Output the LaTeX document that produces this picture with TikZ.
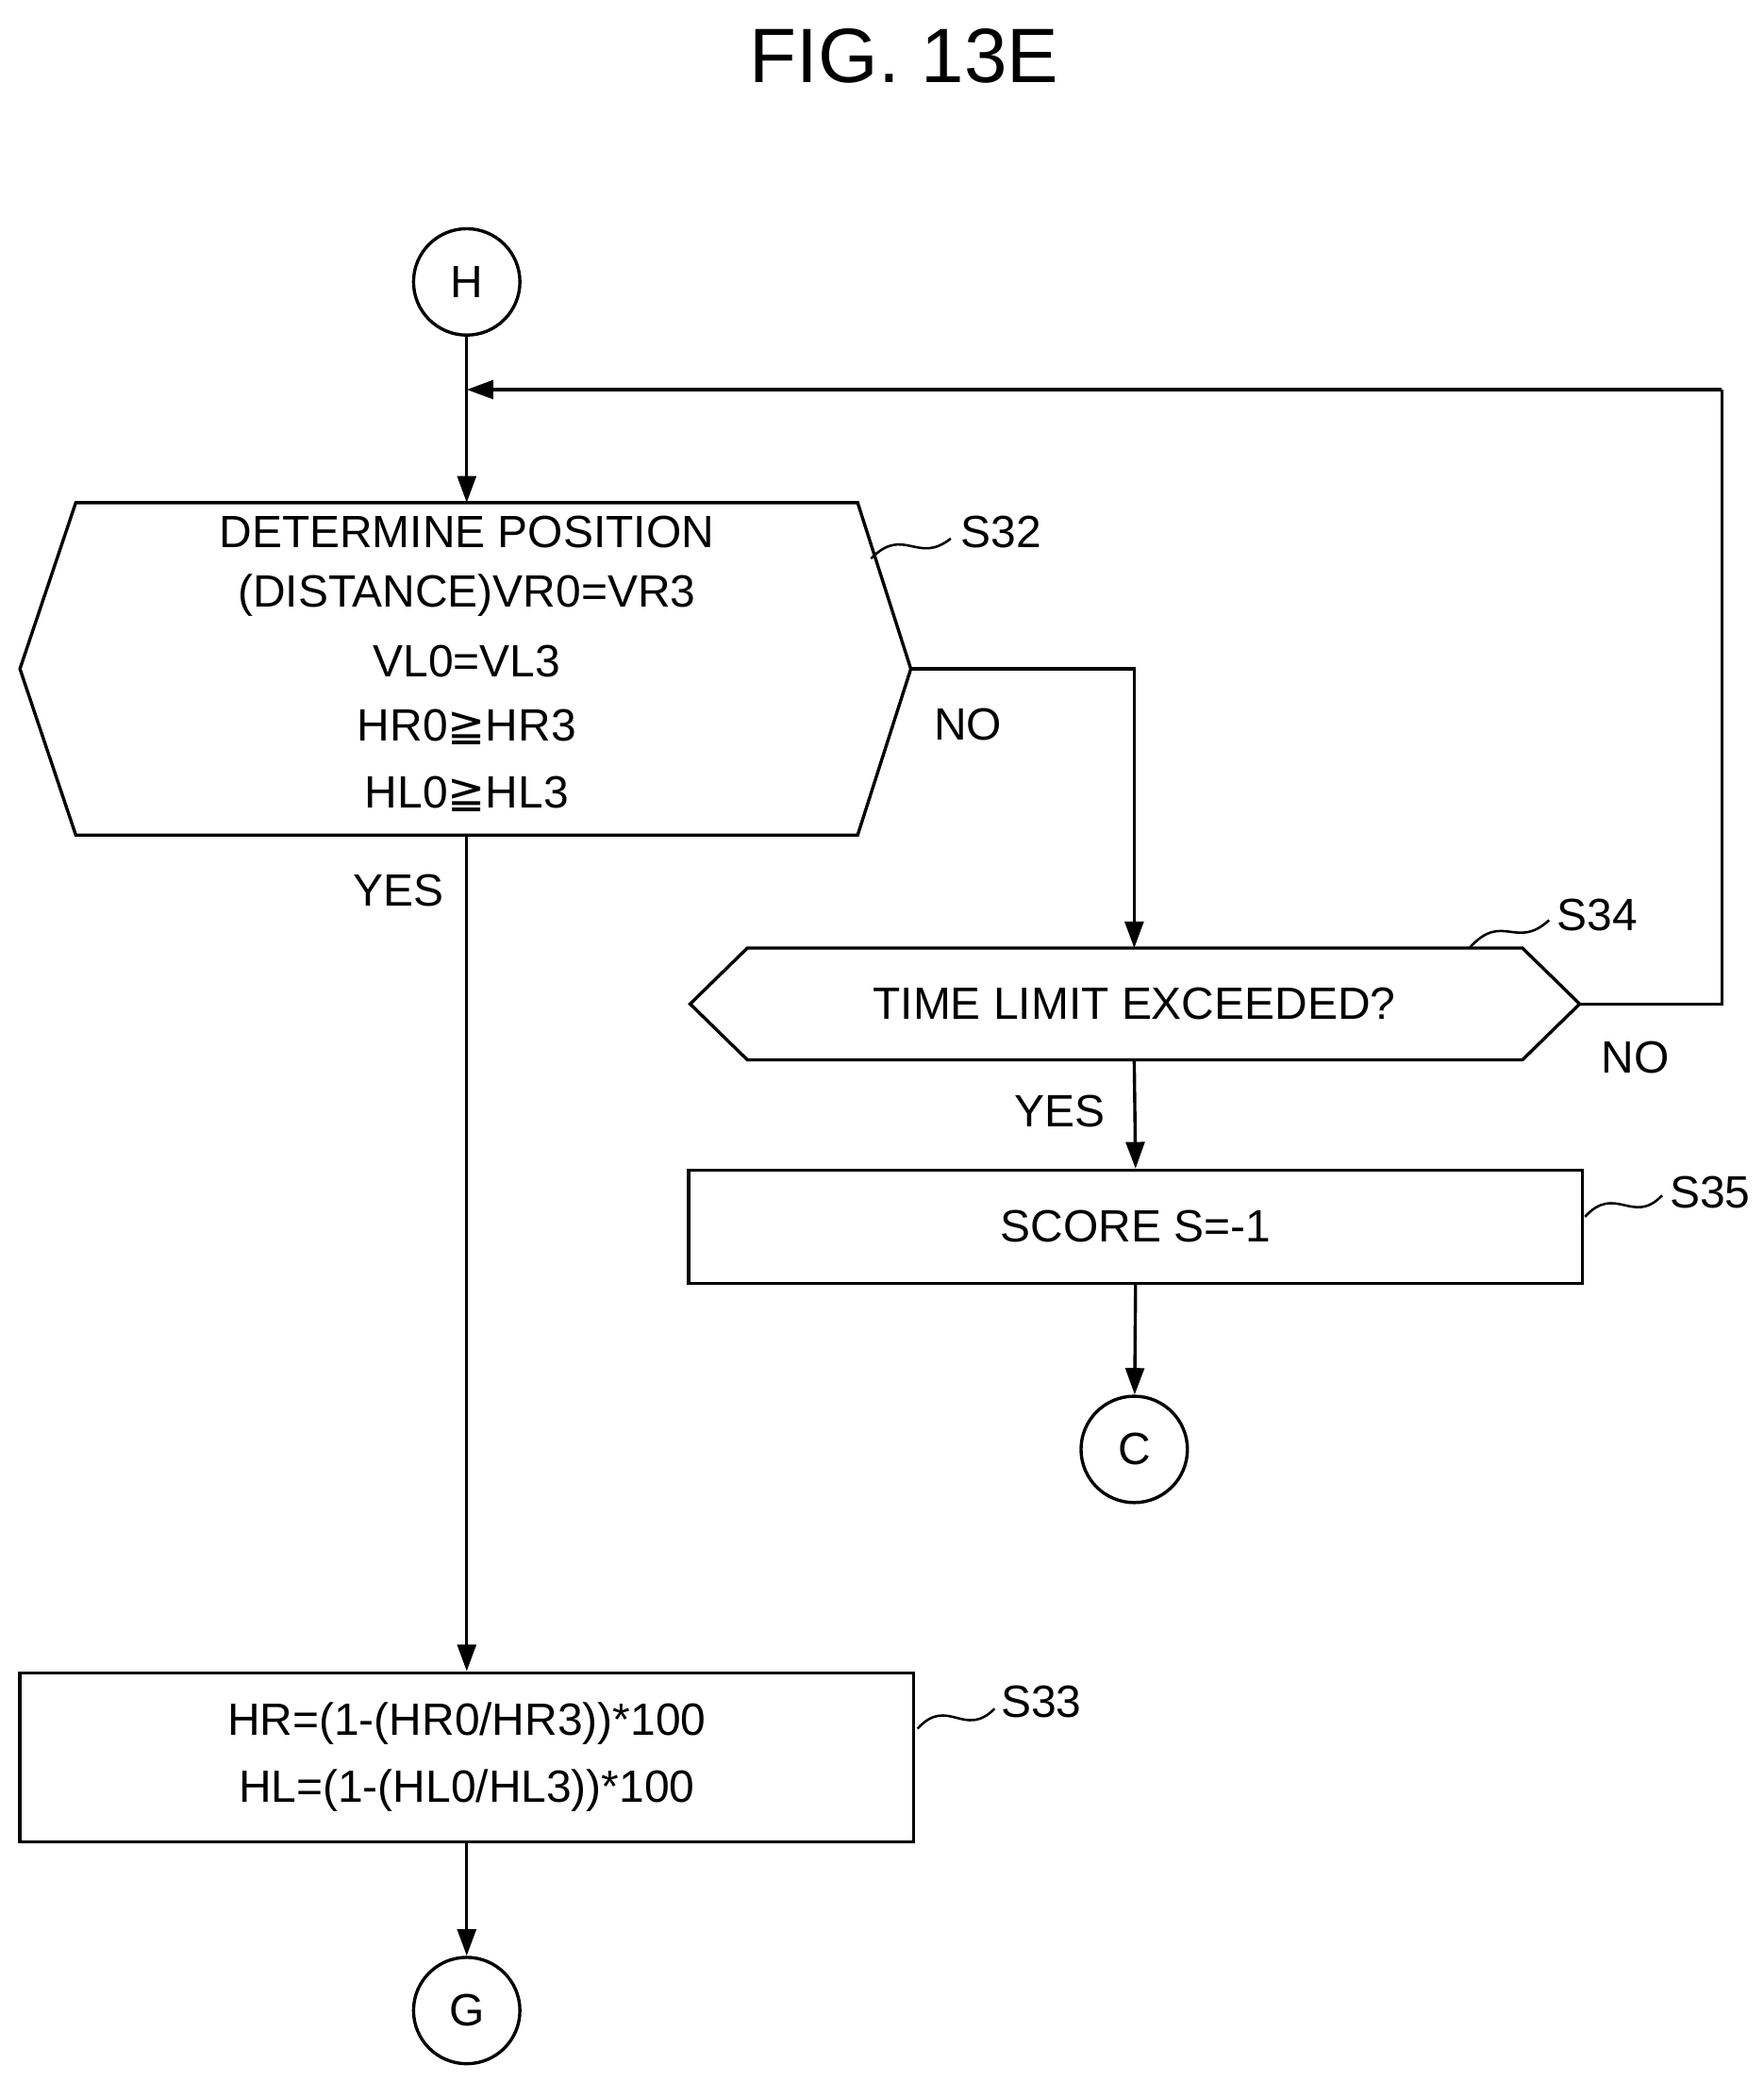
\documentclass[tikz,border=0pt]{standalone}
\usepackage{fontspec}
\setmainfont{Liberation Sans}
\newfontfamily\symf{DejaVu Sans}
\usetikzlibrary{arrows.meta}
\begin{document}
\begin{tikzpicture}[x=0.5pt,y=-0.5pt,line width=1.2pt,
  arr/.style={-{Triangle[length=10pt,width=7pt]}},
  conn/.style={circle,draw,minimum size=40pt,inner sep=0pt,font=\fontsize{17}{20}\selectfont},
  txt/.style={font=\fontsize{17}{25}\selectfont,align=center},
  lbl/.style={font=\fontsize{17}{20}\selectfont,anchor=west}]
\useasboundingbox (0,0) rectangle (1326,1565);
\node[font=\fontsize{29}{32}\selectfont] (title) at (680,42) {FIG. 13E};
% connectors
\node[conn] (H) at (351,212) {H};
\node[conn] (C) at (853,1090) {C};
\node[conn] (G) at (351,1512) {G};
% S32 hexagon
\draw (57,378) -- (645,378) -- (685,503) -- (645,628) -- (57,628) -- (15,503) -- cycle;
\coordinate (s32top) at (351,378);
\coordinate (s32bot) at (351,628);
\coordinate (s32r) at (685,503);
\node[txt] (t32a) at (351,400) {DETERMINE POSITION};
\node[txt] (t32b) at (351,448) {(DISTANCE)VR0=VR3};
\node[txt] (t32c) at (351,497) {VL0=VL3};
\node[txt] (t32d) at (351,547) {HR0{\symf ≧}HR3};
\node[txt] (t32e) at (351,597) {HL0{\symf ≧}HL3};
\node[lbl] (L32) at (715,400) {S32};
\coordinate (q32a) at (655,420); \coordinate (q32b) at (715,405);
\draw[line width=0.9pt] (q32a) .. controls (680,395) and (690,425) .. (q32b);
% S34 hexagon
\draw (562,713) -- (1145,713) -- (1188,755) -- (1145,797) -- (562,797) -- (519,755) -- cycle;
\coordinate (s34top) at (853,713);
\coordinate (s34bot) at (853,797);
\coordinate (s34r) at (1188,755);
\node[txt] (t34) at (853,755) {TIME LIMIT EXCEEDED?};
\node[lbl] (L34) at (1163,688) {S34};
\coordinate (q34a) at (1105,713); \coordinate (q34b) at (1165,692);
\draw[line width=0.9pt] (q34a) .. controls (1130,685) and (1140,715) .. (q34b);
% S35
\node[draw,minimum width=336pt,minimum height=42.5pt,txt] (S35) at (854,922.5) {SCORE S=-1};
\node[lbl] (L35) at (1248,897) {S35};
\coordinate (q35a) at (1192,915); \coordinate (q35b) at (1250,899);
\draw[line width=0.9pt] (q35a) .. controls (1215,890) and (1228,922) .. (q35b);
% S33
\node[draw,minimum width=336pt,minimum height=63.5pt,txt] (S33) at (351,1321.5) {HR=(1-(HR0/HR3))*100\\HL=(1-(HL0/HL3))*100};
\node[lbl] (L33) at (745,1280) {S33};
\coordinate (q33a) at (690,1300); \coordinate (q33b) at (748,1285);
\draw[line width=0.9pt] (q33a) .. controls (713,1275) and (725,1308) .. (q33b);
% flow
\coordinate (join) at (351,293);
\coordinate (fbtop) at (1295,293);
\coordinate (fbbot) at (1295,755);
\coordinate (nocorner) at (853,503);
\draw[arr] (H) -- (s32top);
\draw[arr] (fbtop) -- (join);
\draw (s34r) -- (fbbot) -- (fbtop);
\draw[arr] (s32r) -- (nocorner) -- (s34top);
\draw[arr] (s32bot) -- (S33.north);
\draw[arr] (s34bot) -- (S35.north);
\draw[arr] (S35.south) -- (C);
\draw[arr] (S33.south) -- (G);
% labels
\node[txt] (no1) at (728,545) {NO};
\node[txt] (yes1) at (300,670) {YES};
\node[txt] (no2) at (1230,795) {NO};
\node[txt] (yes2) at (797,836) {YES};
\end{tikzpicture}
\end{document}
